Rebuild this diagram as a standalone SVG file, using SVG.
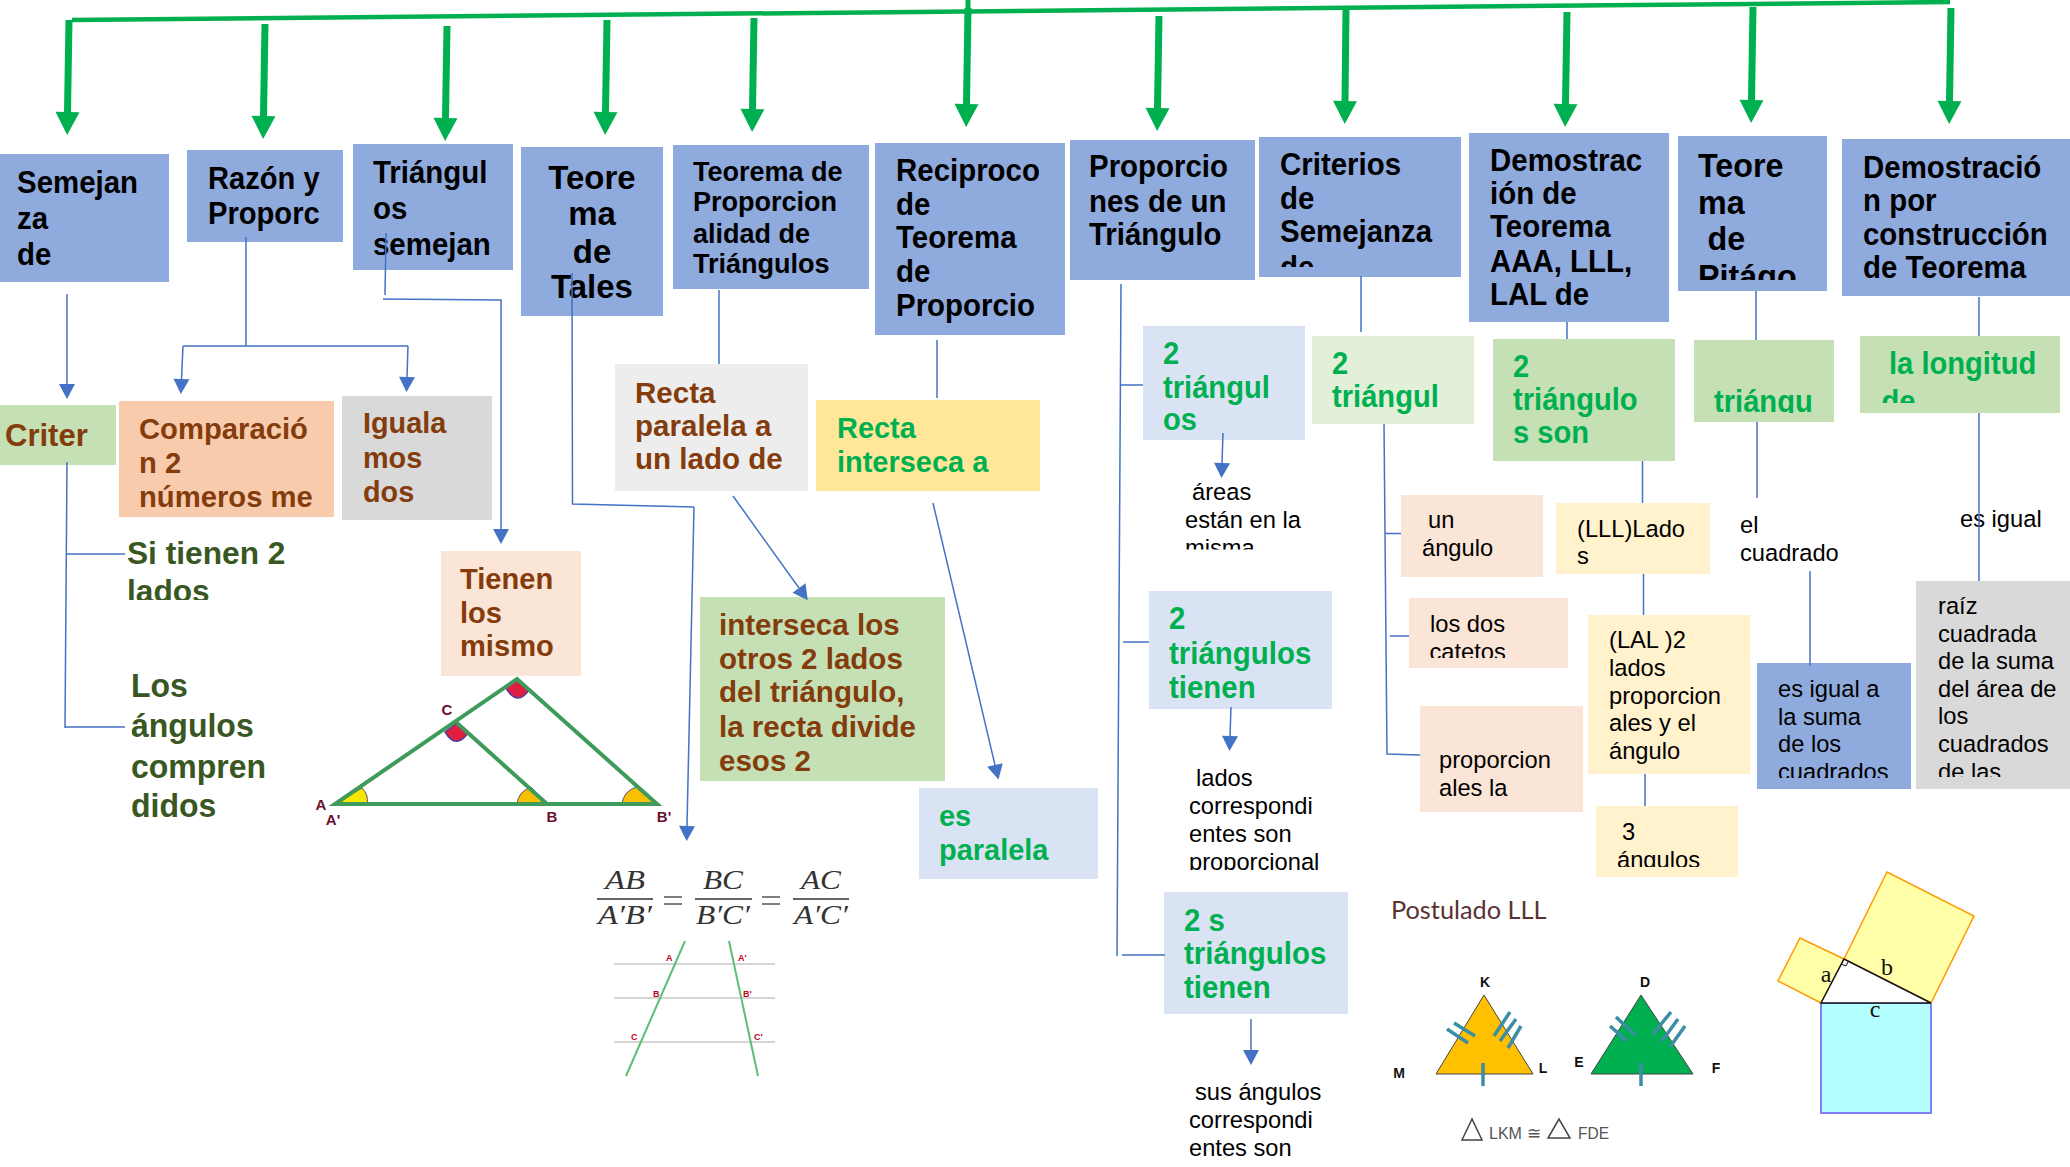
<svg xmlns="http://www.w3.org/2000/svg" width="2070" height="1167" viewBox="0 0 2070 1167">
<style>
text{font-family:"Liberation Sans",Arial,sans-serif}
.h{font-weight:700;fill:#000}
.g{font-weight:700;fill:#00B050}
.b{font-weight:700;fill:#843C0C}
.d{font-weight:700;fill:#385723}
.n{fill:#000;font-size:23.7px}
.bl{fill:#8FAADC}.lb{fill:#DAE3F3}.lg{fill:#E2F0D9}.gr{fill:#C5E0B4}.or{fill:#F8CBAD}.gy{fill:#D9D9D9}.pe{fill:#FBE5D6}.lt{fill:#EDEDED}.ye{fill:#FFE699}.ly{fill:#FFF2CC}.bb{fill:#8FAADC}
.top{stroke:#00B050;stroke-width:7;fill:none;marker-end:url(#ga)}
.c{stroke:#4472C4;stroke-width:1.5;fill:none}
.ca{stroke:#4472C4;stroke-width:1.5;fill:none;marker-end:url(#ba)}
.lab{font-weight:700;fill:#6B0F2A;font-size:15px;text-anchor:middle}
.red{font-weight:700;fill:#C00020;font-size:9px}
.fm{font-family:"Liberation Serif",serif;font-style:italic;font-size:27px;fill:#333;text-anchor:middle}
.tk{stroke:#3B8EA5;stroke-width:3.5;fill:none}
.kl{font-weight:700;font-size:14px;fill:#111;text-anchor:middle}
.py{font-family:"Liberation Serif",serif;font-size:24px;fill:#111;text-anchor:middle}
</style>
<defs>
<marker id="ga" markerUnits="userSpaceOnUse" markerWidth="24" markerHeight="24" refX="0" refY="12" orient="auto" overflow="visible"><path d="M0,0L23,12L0,24z" fill="#00B050"/></marker>
<marker id="ba" markerUnits="userSpaceOnUse" markerWidth="16" markerHeight="16" refX="0" refY="8" orient="auto" overflow="visible"><path d="M0,0L15,8L0,16z" fill="#4472C4"/></marker>
<clipPath id="c1"><rect x="1259" y="137" width="202" height="130"/></clipPath>
<clipPath id="c2"><rect x="1678" y="136" width="149" height="144"/></clipPath>
<clipPath id="c3"><rect x="1694" y="340" width="140" height="73"/></clipPath>
<clipPath id="c4"><rect x="1860" y="336" width="200" height="67"/></clipPath>
<clipPath id="c5"><rect x="100" y="530" width="220" height="70"/></clipPath>
<clipPath id="c6"><rect x="1170" y="470" width="160" height="79.500"/></clipPath>
<clipPath id="c7"><rect x="1391" y="598" width="177" height="60"/></clipPath>
<clipPath id="c8"><rect x="1757" y="663" width="153" height="115"/></clipPath>
<clipPath id="c9"><rect x="1916" y="581" width="154" height="196"/></clipPath>
<clipPath id="c10"><rect x="1596" y="805" width="142" height="62"/></clipPath>
<clipPath id="c11"><rect x="1180" y="760" width="170" height="110"/></clipPath>
</defs>
<rect width="2070" height="1167" fill="#fff"/>

<g id="n-semejanza"><rect class="bl" x="0" y="154" width="169" height="128"/><text class="h" font-size="31" transform="translate(17,193) scale(.95 1)"><tspan x="0">Semejan</tspan><tspan x="0" dy="36">za</tspan><tspan x="0" dy="36">de</tspan></text></g>
<g id="n-razon"><rect class="bl" x="187" y="150" width="156" height="92"/><text class="h" font-size="31" transform="translate(208,188.500) scale(.94 1)"><tspan x="0">Razón y</tspan><tspan x="0" dy="36">Proporc</tspan></text></g>
<g id="n-triangulos"><rect class="bl" x="353" y="144" width="160" height="126"/><text class="h" font-size="31" transform="translate(373,183) scale(.95 1)"><tspan x="0">Triángul</tspan><tspan x="0" dy="36">os</tspan><tspan x="0" dy="36">semejan</tspan></text></g>
<g id="n-tales"><rect class="bl" x="521" y="147" width="142" height="169"/><text class="h" font-size="34" text-anchor="middle" transform="translate(592,189) scale(.97 1)"><tspan x="0">Teore</tspan><tspan x="0" dy="36">ma</tspan><tspan x="0" dy="38">de</tspan><tspan x="0" dy="35">Tales</tspan></text></g>
<g id="n-proporcionalidad"><rect class="bl" x="673" y="145" width="196" height="144"/><text class="h" font-size="28" transform="translate(693,181) scale(.965 1)"><tspan x="0">Teorema de</tspan><tspan x="0" dy="30">Proporcion</tspan><tspan x="0" dy="32">alidad de</tspan><tspan x="0" dy="30">Triángulos</tspan></text></g>
<g id="n-reciproco"><rect class="bl" x="875" y="143" width="190" height="192"/><text class="h" font-size="31" transform="translate(896,181) scale(.95 1)"><tspan x="0">Reciproco</tspan><tspan x="0" dy="34">de</tspan><tspan x="0" dy="33">Teorema</tspan><tspan x="0" dy="34">de</tspan><tspan x="0" dy="34">Proporcio</tspan></text></g>
<g id="n-proporciones"><rect class="bl" x="1070" y="140" width="185" height="140"/><text class="h" font-size="31" transform="translate(1089,177) scale(.95 1)"><tspan x="0">Proporcio</tspan><tspan x="0" dy="35">nes de un</tspan><tspan x="0" dy="33">Triángulo</tspan></text></g>
<g id="n-criterios"><rect class="bl" x="1259" y="137" width="202" height="140"/><g clip-path="url(#c1)"><text class="h" font-size="31" transform="translate(1280,175) scale(.95 1)"><tspan x="0">Criterios</tspan><tspan x="0" dy="34">de</tspan><tspan x="0" dy="33">Semejanza</tspan><tspan x="0" dy="36">de</tspan></text></g></g>
<g id="n-demo"><rect class="bl" x="1469" y="133" width="200" height="189"/><text class="h" font-size="31" transform="translate(1490,171) scale(.95 1)"><tspan x="0">Demostrac</tspan><tspan x="0" dy="33">ión de</tspan><tspan x="0" dy="33">Teorema</tspan><tspan x="0" dy="35">AAA, LLL,</tspan><tspan x="0" dy="33">LAL de</tspan></text></g>
<g id="n-pitagoras"><rect class="bl" x="1678" y="136" width="149" height="155"/><g clip-path="url(#c2)"><text class="h" font-size="34" transform="translate(1698,177) scale(.95 1)"><tspan x="0">Teore</tspan><tspan x="0" dy="37">ma</tspan><tspan x="10" dy="36">de</tspan><tspan x="0" dy="38">Pitágo</tspan></text></g></g>
<g id="n-construccion"><rect class="bl" x="1842" y="139" width="228" height="157"/><text class="h" font-size="31" transform="translate(1863,178) scale(.95 1)"><tspan x="0">Demostració</tspan><tspan x="0" dy="33">n por</tspan><tspan x="0" dy="34">construcción</tspan><tspan x="0" dy="33">de Teorema</tspan></text></g>

<g id="n-2tri1"><rect class="lb" x="1143" y="326" width="162" height="114"/><text class="g" font-size="31" transform="translate(1163,364) scale(.94 1)"><tspan x="0">2</tspan><tspan x="0" dy="34">triángul</tspan><tspan x="0" dy="32">os</tspan></text></g>
<g id="n-2tri2"><rect class="lg" x="1312" y="336" width="162" height="88"/><text class="g" font-size="31" transform="translate(1332,374) scale(.94 1)"><tspan x="0">2</tspan><tspan x="0" dy="33">triángul</tspan></text></g>
<g id="n-2tri3"><rect class="gr" x="1493" y="339" width="182" height="122"/><text class="g" font-size="31" transform="translate(1513,377) scale(.94 1)"><tspan x="0">2</tspan><tspan x="0" dy="33">triángulo</tspan><tspan x="0" dy="33">s son</tspan></text></g>
<g id="n-triangu"><rect class="gr" x="1694" y="340" width="140" height="82"/><g clip-path="url(#c3)"><text class="g" font-size="31" transform="translate(1714,412) scale(.94 1)">triángu</text></g></g>
<g id="n-longitud"><rect class="gr" x="1860" y="336" width="200" height="77"/><g clip-path="url(#c4)"><text class="g" font-size="31" transform="translate(1889,374) scale(.94 1)"><tspan x="0">la longitud</tspan><tspan x="-8" dy="38">de</tspan></text></g></g>

<g id="n-criter"><rect class="gr" x="0" y="405" width="116" height="60"/><text class="b" font-size="31" x="5" y="446">Criter</text></g>
<g id="n-comparacion"><rect class="or" x="119" y="401" width="215" height="116"/><text class="b" font-size="30" transform="translate(139,439) scale(.975 1)"><tspan x="0">Comparació</tspan><tspan x="0" dy="34">n 2</tspan><tspan x="0" dy="34">números me</tspan></text></g>
<g id="n-igualamos"><rect class="gy" x="342" y="396" width="150" height="124"/><text class="b" font-size="30" transform="translate(363,433) scale(.96 1)"><tspan x="0">Iguala</tspan><tspan x="0" dy="35">mos</tspan><tspan x="0" dy="34">dos</tspan></text></g>
<g id="n-tienen"><rect class="pe" x="441" y="551" width="140" height="125"/><text class="b" font-size="30" transform="translate(460,589) scale(.97 1)"><tspan x="0">Tienen</tspan><tspan x="0" dy="34">los</tspan><tspan x="0" dy="33">mismo</tspan></text></g>
<g id="n-recta1"><rect class="lt" x="615" y="364" width="193" height="127"/><text class="b" font-size="30" transform="translate(635,403) scale(.985 1)"><tspan x="0">Recta</tspan><tspan x="0" dy="33">paralela a</tspan><tspan x="0" dy="33">un lado de</tspan></text></g>
<g id="n-recta2"><rect class="ye" x="816" y="400" width="224" height="91"/><text class="g" font-size="30" transform="translate(837,438) scale(.965 1)"><tspan x="0">Recta</tspan><tspan x="0" dy="34.500">interseca a</tspan></text></g>
<g id="n-interseca"><rect class="gr" x="700" y="597" width="245" height="184"/><text class="b" font-size="30" transform="translate(719,635) scale(.985 1)"><tspan x="0">interseca los</tspan><tspan x="0" dy="34">otros 2 lados</tspan><tspan x="0" dy="33">del triángulo,</tspan><tspan x="0" dy="35">la recta divide</tspan><tspan x="0" dy="34">esos 2</tspan></text></g>
<g id="n-esparalela"><rect class="lb" x="919" y="788" width="179" height="91"/><text class="g" font-size="30" transform="translate(939,826) scale(.965 1)"><tspan x="0">es</tspan><tspan x="0" dy="34">paralela</tspan></text></g>
<g id="n-2tri4"><rect class="lb" x="1149" y="591" width="183" height="118"/><text class="g" font-size="31" transform="translate(1169,629) scale(.95 1)"><tspan x="0">2</tspan><tspan x="0" dy="35">triángulos</tspan><tspan x="0" dy="34">tienen</tspan></text></g>
<g id="n-2tri5"><rect class="lb" x="1164" y="892" width="184" height="122"/><text class="g" font-size="31" transform="translate(1184,931) scale(.95 1)"><tspan x="0">2 s</tspan><tspan x="0" dy="33">triángulos</tspan><tspan x="0" dy="34">tienen</tspan></text></g>

<g id="n-sitienen"><g clip-path="url(#c5)"><text class="d" font-size="32" transform="translate(127,564) scale(.99 1)"><tspan x="0">Si tienen 2</tspan><tspan x="0" dy="38">lados</tspan></text></g></g>
<g id="n-losangulos"><text class="d" font-size="33" transform="translate(131,697) scale(.97 1)"><tspan x="0">Los</tspan><tspan x="0" dy="40">ángulos</tspan><tspan x="0" dy="41">compren</tspan><tspan x="0" dy="39">didos</tspan></text></g>
<g id="n-areas"><g clip-path="url(#c6)"><text class="n"><tspan x="1192" y="500">áreas</tspan><tspan x="1185" y="528">están en la</tspan><tspan x="1185" y="556">misma</tspan></text></g></g>
<g id="n-lados"><g clip-path="url(#c11)"><text class="n"><tspan x="1196" y="786">lados</tspan><tspan x="1189" y="814">correspondi</tspan><tspan x="1189" y="842">entes son</tspan><tspan x="1189" y="870">proporcional</tspan></text></g></g>
<g id="n-sus"><text class="n"><tspan x="1195" y="1100">sus ángulos</tspan><tspan x="1189" y="1128">correspondi</tspan><tspan x="1189" y="1156">entes son</tspan></text></g>
<g id="n-unangulo"><rect class="pe" x="1401" y="495" width="142" height="82"/><text class="n"><tspan x="1428" y="528">un</tspan><tspan x="1422" y="556">ángulo</tspan></text></g>
<g id="n-catetos"><rect class="pe" x="1409" y="598" width="159" height="70"/><g clip-path="url(#c7)"><text class="n"><tspan x="1430" y="632">los dos</tspan><tspan x="1429.500" y="660">catetos</tspan></text></g></g>
<g id="n-proporcion"><rect class="pe" x="1420" y="706" width="163" height="106"/><text class="n"><tspan x="1439" y="768">proporcion</tspan><tspan x="1439" y="796">ales la</tspan></text></g>
<g id="n-lll"><rect class="ly" x="1556" y="503" width="154" height="71"/><text class="n"><tspan x="1577" y="537">(LLL)Lado</tspan><tspan x="1577" y="564">s</tspan></text></g>
<g id="n-lal"><rect class="ly" x="1588" y="615" width="162" height="159"/><text class="n"><tspan x="1609" y="648">(LAL )2</tspan><tspan x="1609" y="676">lados</tspan><tspan x="1609" y="704">proporcion</tspan><tspan x="1609" y="731">ales y el</tspan><tspan x="1609" y="759">ángulo</tspan></text></g>
<g id="n-3ang"><rect class="ly" x="1596" y="806" width="142" height="71"/><g clip-path="url(#c10)"><text class="n"><tspan x="1622" y="839.500">3</tspan><tspan x="1617" y="868">ángulos</tspan></text></g></g>
<g id="n-elcuadrado"><text class="n"><tspan x="1740" y="533">el</tspan><tspan x="1740" y="561">cuadrado</tspan></text></g>
<g id="n-esigual"><text class="n" x="1960" y="527">es igual</text></g>
<g id="n-suma"><rect class="bb" x="1757" y="663" width="154" height="126"/><g clip-path="url(#c8)"><text class="n"><tspan x="1778" y="697">es igual a</tspan><tspan x="1778" y="725">la suma</tspan><tspan x="1778" y="752">de los</tspan><tspan x="1778" y="780">cuadrados</tspan></text></g></g>
<g id="n-raiz"><rect class="gy" x="1916" y="581" width="154" height="208"/><g clip-path="url(#c9)"><text class="n"><tspan x="1938" y="614">raíz</tspan><tspan x="1938" y="642">cuadrada</tspan><tspan x="1938" y="669">de la suma</tspan><tspan x="1938" y="697">del área de</tspan><tspan x="1938" y="724">los</tspan><tspan x="1938" y="752">cuadrados</tspan><tspan x="1938" y="780">de las</tspan></text></g></g>

<g id="connectors">
<path d="M72,20L1950,2" stroke="#00B050" stroke-width="4.500" fill="none"/>
<path d="M968,0V8" stroke="#00B050" stroke-width="5" fill="none"/>
<path class="top" d="M69,20L67.500,112"/>
<path class="top" d="M265,24L263.500,116"/>
<path class="top" d="M447,26L445.500,118"/>
<path class="top" d="M607,20L605.500,112"/>
<path class="top" d="M754,18L752.500,109"/>
<path class="top" d="M968,8L966.500,104"/>
<path class="top" d="M1159,16L1157.500,108"/>
<path class="top" d="M1346,10L1345,101"/>
<path class="top" d="M1567,12L1565.500,104"/>
<path class="top" d="M1753,7L1751.500,100"/>
<path class="top" d="M1951,8L1949.500,101"/>
<path class="ca" d="M67,294V384"/>
<path class="c" d="M67,462L65,728M67,554H125M65,727H125"/>
<path class="c" d="M246,237V346M183,346H408"/>
<path class="ca" d="M183,346L181.500,379"/>
<path class="ca" d="M408,346L407,377"/>
<path class="c" d="M386,233L385,295"/>
<path class="ca" d="M383,299L501,300V529"/>
<path class="c" d="M572,273L572.500,504L694,507"/>
<path class="ca" d="M694,507L687,826"/>
<path class="c" d="M719,290V364"/>
<path class="ca" d="M733,496L799,588"/>
<path class="c" d="M937,340V398"/>
<path class="ca" d="M933,503L995,765"/>
<path class="c" d="M1121,284L1117,956M1121,385H1143M1123,642H1149M1122,955H1165"/>
<path class="ca" d="M1223,433L1222,463"/>
<path class="ca" d="M1231,707L1230,736"/>
<path class="ca" d="M1251,1019V1050"/>
<path class="c" d="M1361,276V332"/>
<path class="c" d="M1384,424L1387,754L1420,755M1385,533.500H1401M1390,636H1409"/>
<path class="c" d="M1567,322V339M1642.500,461V503M1643.500,574V615M1645,774V806"/>
<path class="c" d="M1756,291V340M1757,422V498"/>
<path class="c" stroke-width="2" d="M1810,571V666"/>
<path class="c" d="M1979,297V336M1979,413V581"/>
</g>

<g id="fig-triangulo">
<path d="M335,804L362,788Q369,795 367,804z" fill="#F5E800" stroke="#5a4a7a" stroke-width="1"/>
<path d="M547,804L517,804Q518,792 531,787z" fill="#F7C000" stroke="#5a4a7a" stroke-width="1"/>
<path d="M657,804L622,804Q623,792 636,787z" fill="#F7C000" stroke="#5a4a7a" stroke-width="1"/>
<path d="M445,732L457,723L468,733Q456,750 445,732z" fill="#E02040" stroke="#5a3a9a" stroke-width="1.500"/>
<path d="M506,688L517,679L529,690Q517,707 506,688z" fill="#E02040" stroke="#5a3a9a" stroke-width="1.500"/>
<path d="M335,804H657L517,679zM457,723L547,804" fill="none" stroke="#3E9B5B" stroke-width="4"/>
<text class="lab" x="321" y="810">A</text><text class="lab" x="333" y="825">A'</text><text class="lab" x="447" y="715">C</text><text class="lab" x="552" y="822">B</text><text class="lab" x="664" y="822">B'</text>
</g>
<g id="fig-formula">
<text class="fm" x="625" y="889" textLength="40" lengthAdjust="spacingAndGlyphs">AB</text><text class="fm" x="625" y="924" textLength="54" lengthAdjust="spacingAndGlyphs">A′B′</text>
<text class="fm" x="723" y="889" textLength="40" lengthAdjust="spacingAndGlyphs">BC</text><text class="fm" x="723" y="924" textLength="54" lengthAdjust="spacingAndGlyphs">B′C′</text>
<text class="fm" x="821" y="889" textLength="40" lengthAdjust="spacingAndGlyphs">AC</text><text class="fm" x="821" y="924" textLength="54" lengthAdjust="spacingAndGlyphs">A′C′</text>
<path d="M597,899H653M695,899H752M793,899H849" stroke="#333" stroke-width="1.300"/>
<path d="M664,897H682M664,904H682M762,897H780M762,904H780" stroke="#555" stroke-width="1.500"/>
</g>
<g id="fig-paralelas">
<path d="M614,964H775M614,998H775M614,1042H775" stroke="#D5D5D5" stroke-width="2"/>
<path d="M685,941L626,1076M729,941L758,1076" stroke="#5CBF73" stroke-width="2"/>
<text class="red" x="666" y="961">A</text><text class="red" x="738" y="961">A'</text><text class="red" x="653" y="997">B</text><text class="red" x="743" y="997">B'</text><text class="red" x="631" y="1040">C</text><text class="red" x="754" y="1040">C'</text>
</g>
<g id="fig-lll">
<text font-size="25.300" fill="#5a3232" x="1391" y="919" style="font-family:Lato,sans-serif">Postulado LLL</text>
<path d="M1484,995L1436,1074H1533z" fill="#FFC000" stroke="#444" stroke-width="1"/>
<path d="M1641,995L1591,1074H1693z" fill="#00B050" stroke="#444" stroke-width="1"/>
<path class="tk" d="M1454,1023L1475,1036M1447,1029L1468,1043M1510,1012L1494,1036M1516,1019L1500,1041M1521,1026L1508,1048M1483,1063V1086"/>
<path class="tk" d="M1616,1017L1635,1035M1610,1026L1627,1041M1671,1012L1653,1034M1678,1019L1662,1041M1685,1026L1670,1047M1641,1063V1086"/>
<text class="kl" x="1485" y="987">K</text><text class="kl" x="1645" y="987">D</text><text class="kl" x="1399" y="1078">M</text><text class="kl" x="1543" y="1073">L</text><text class="kl" x="1579" y="1067">E</text><text class="kl" x="1716" y="1073">F</text>
<path d="M1472,1119L1462,1140H1482zM1559,1119L1548,1138H1570z" fill="none" stroke="#444" stroke-width="1.500"/>
<text x="1489" y="1139" font-size="17" fill="#555" textLength="33" lengthAdjust="spacingAndGlyphs">LKM</text><text x="1527" y="1139" font-size="17" fill="#555">≅</text><text x="1578" y="1139" font-size="17" fill="#555" textLength="31" lengthAdjust="spacingAndGlyphs">FDE</text>
</g>
<g id="fig-pitagoras">
<rect x="1821" y="1003" width="110" height="110" fill="#B3FFFF" stroke="#8080FF" stroke-width="2"/>
<path d="M1844,959L1800,938L1778,981L1821,1003z" fill="#FFFFAA" stroke="#FF9900" stroke-width="1.500"/>
<path d="M1844,959L1887,872L1974,916L1931,1003z" fill="#FFFFAA" stroke="#FF9900" stroke-width="1.500"/>
<path d="M1821,1003L1844,959L1931,1003z" fill="#fff" stroke="#111" stroke-width="1.500"/>
<path d="M1841,964L1846,966L1848,962" fill="none" stroke="#111"/>
<text class="py" x="1826" y="982">a</text><text class="py" x="1887" y="975">b</text><text class="py" x="1875" y="1017">c</text>
</g>
</svg>
